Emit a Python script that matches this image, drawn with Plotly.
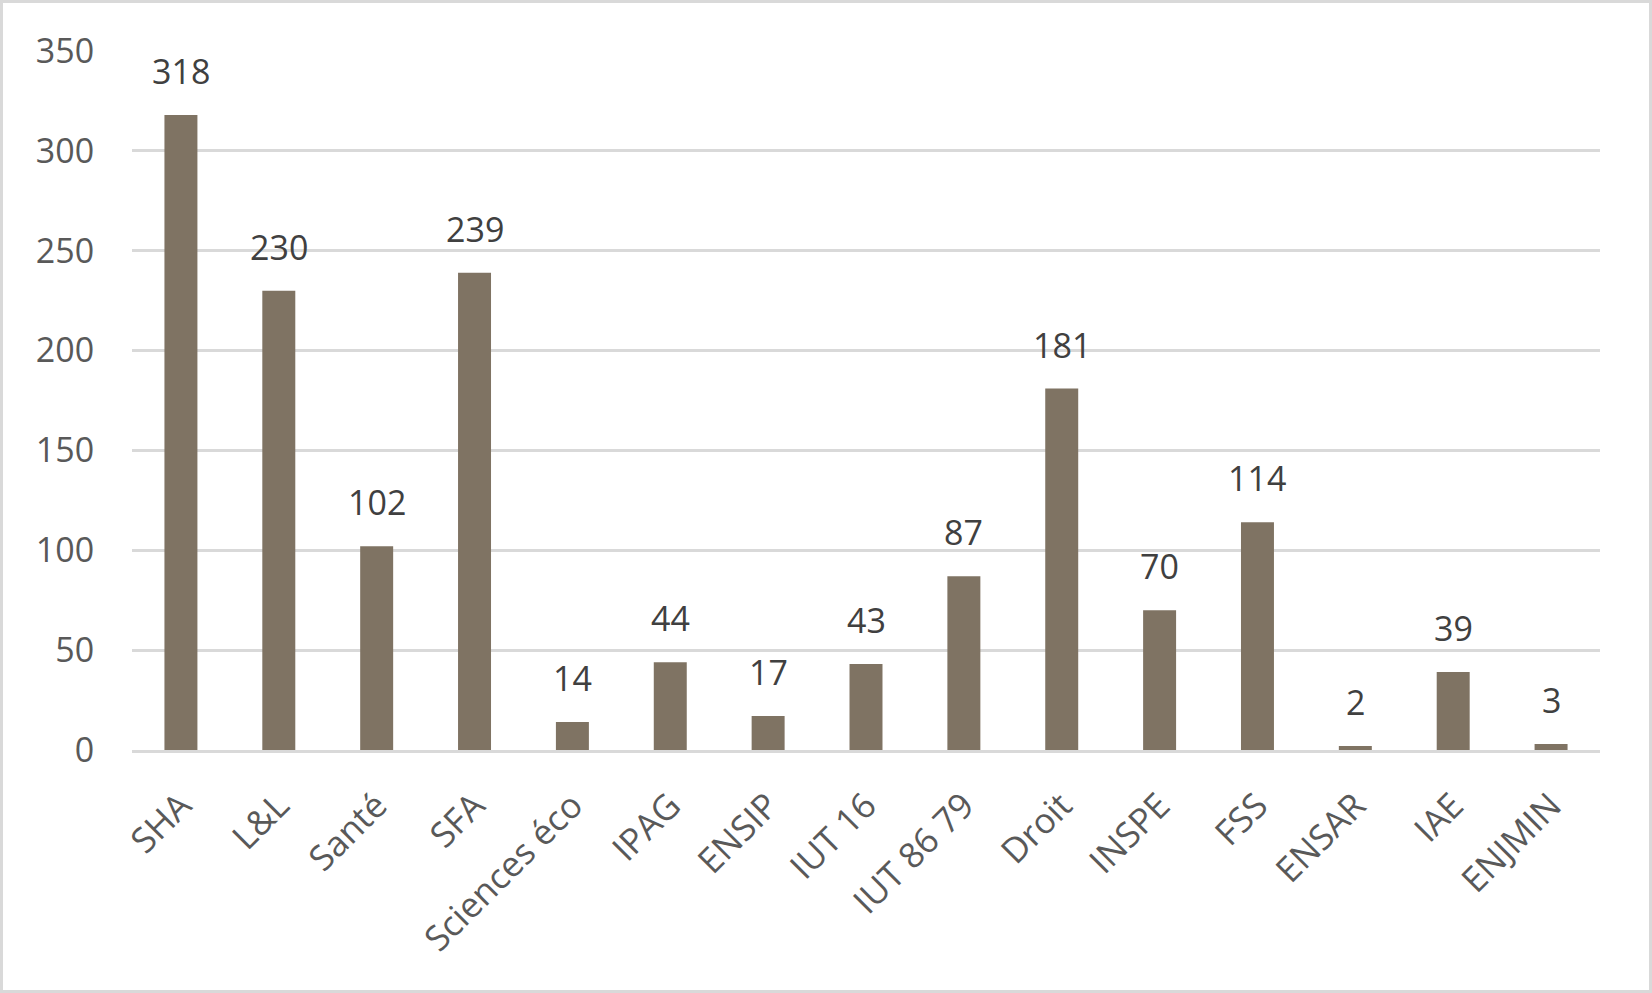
import plotly.graph_objects as go

categories = ["SHA", "L&L", "Santé", "SFA", "Sciences éco", "IPAG", "ENSIP", "IUT 16",
              "IUT 86 79", "Droit", "INSPE", "FSS", "ENSAR", "IAE", "ENJMIN"]
values = [318, 230, 102, 239, 14, 44, 17, 43, 87, 181, 70, 114, 2, 39, 3]
y_ticks = [0, 50, 100, 150, 200, 250, 300, 350]

W, H = 1652, 993
ML, MR, MT, MB = 132, 52, 51, 243
FONT = "Open Sans"

fig = go.Figure()
fig.add_trace(go.Bar(
    x=categories, y=values,
    marker=dict(color="#7f7363", line=dict(width=0)),
    hoverinfo="x+y",
))

for c, v in zip(categories, values):
    fig.add_annotation(x=c, y=v, text=str(v), showarrow=False,
                       yanchor="middle", yshift=44,
                       font=dict(family=FONT, size=34, color="#404040"))

pw = W - ML - MR
ph = H - MT - MB
fig.add_shape(type="rect", xref="paper", yref="paper",
              x0=-(ML - 1.5) / pw, x1=1 + (MR - 1.5) / pw,
              y0=-(MB - 1.5) / ph, y1=1 + (MT - 1.5) / ph,
              line=dict(color="#d9d9d9", width=3), fillcolor="rgba(0,0,0,0)", layer="below")

fig.update_layout(
    width=W, height=H,
    margin=dict(l=ML, r=MR, t=MT, b=MB, pad=0),
    paper_bgcolor="white", plot_bgcolor="white",
    bargap=0.663,
    showlegend=False,
    font=dict(family=FONT, color="#595959"),
    xaxis=dict(
        tickangle=-45, tickfont=dict(family=FONT, size=35, color="#595959"),
        showgrid=False, showline=True, linecolor="#d9d9d9", linewidth=3,
        ticks="outside", ticklen=0, ticklabelstandoff=18,
    ),
    yaxis=dict(
        range=[0, 350], tickvals=y_ticks, ticktext=[str(t) for t in y_ticks],
        tickfont=dict(family=FONT, size=34, color="#595959"),
        showgrid=True, gridcolor="#d9d9d9", gridwidth=3,
        zeroline=False, showline=False,
        ticks="outside", ticklen=0, ticklabelstandoff=30,
    ),
)

fig.write_html("out.html", config={"displayModeBar": False},
               post_script="document.body.style.margin='0';document.body.style.overflow='hidden';")
